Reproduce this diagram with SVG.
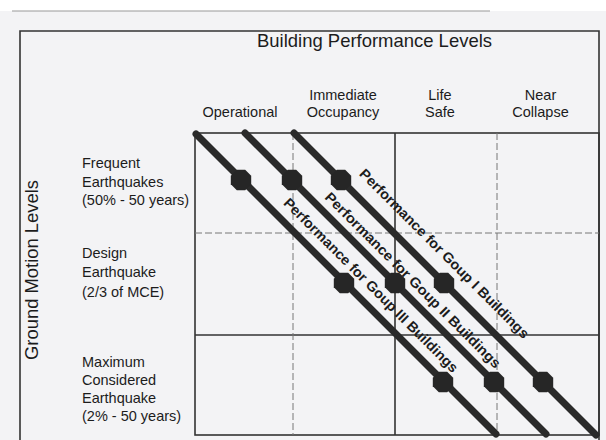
<svg xmlns="http://www.w3.org/2000/svg" width="606" height="440" viewBox="0 0 606 440">
<style>
  .t{font-family:"Liberation Sans",Arial,sans-serif;fill:#1c1c1c;}
  .hdr{font-size:14.5px;text-anchor:middle;}
  .row{font-size:14.5px;}
  .solid{stroke:#333;stroke-width:1.6;fill:none;}
  .dash{stroke:#777;stroke-width:1;stroke-dasharray:7 3;fill:none;}
  .perf{stroke:#2a2a2a;stroke-width:7;stroke-linecap:round;fill:none;}
  .dot{fill:#262626;}
  .lbl{font-size:14px;font-weight:bold;text-anchor:middle;}
</style>
<defs>
  <polygon id="oct" class="dot" points="10.2,4.2 4.2,10.2 -4.2,10.2 -10.2,4.2 -10.2,-4.2 -4.2,-10.2 4.2,-10.2 10.2,-4.2"/>
</defs>
<rect x="0" y="0" width="606" height="440" fill="#f3f3f5"/>
<rect x="0" y="0" width="606" height="11" fill="#ffffff"/>
<line x1="12" y1="11" x2="490" y2="11" stroke="#999" stroke-width="1.2"/>

<g id="frame">
  <polyline class="solid" points="20,440 20,31 599,31 599,440" stroke-width="2"/>
</g>

<g id="title">
  <text class="t" x="374.5" y="47" font-size="18.5" text-anchor="middle" textLength="235" lengthAdjust="spacingAndGlyphs">Building Performance Levels</text>
  <text class="t" transform="translate(37.5,270) rotate(-90)" font-size="18.4" text-anchor="middle">Ground Motion Levels</text>
</g>

<g id="column-headers">
  <text class="t hdr" x="240" y="117">Operational</text>
  <text class="t hdr" x="343" y="100">Immediate</text>
  <text class="t hdr" x="343" y="117">Occupancy</text>
  <text class="t hdr" x="440" y="100">Life</text>
  <text class="t hdr" x="440" y="117">Safe</text>
  <text class="t hdr" x="540.5" y="100">Near</text>
  <text class="t hdr" x="540.5" y="117">Collapse</text>
</g>

<g id="row-headers">
  <text class="t row" x="82" y="168">Frequent</text>
  <text class="t row" x="82" y="186.5">Earthquakes</text>
  <text class="t row" x="82" y="205">(50% - 50 years)</text>
  <text class="t row" x="82" y="258">Design</text>
  <text class="t row" x="82" y="277">Earthquake</text>
  <text class="t row" x="82" y="296.5">(2/3 of MCE)</text>
  <text class="t row" x="82" y="367">Maximum</text>
  <text class="t row" x="82" y="385">Considered</text>
  <text class="t row" x="82" y="403">Earthquake</text>
  <text class="t row" x="82" y="421">(2% - 50 years)</text>
</g>

<g id="grid">
  <rect class="solid" x="195" y="133" width="404" height="302"/>
  <line class="solid" x1="395" y1="133" x2="395" y2="435"/>
  <line class="solid" x1="195" y1="335" x2="599" y2="335"/>
  <line class="dash" x1="293" y1="133" x2="293" y2="435"/>
  <line class="dash" x1="497" y1="133" x2="497" y2="435"/>
  <line class="dash" x1="195" y1="233" x2="599" y2="233" stroke="#444"/>
</g>

<g id="connectors">
  <g id="group-III">
    <line class="perf" x1="196" y1="134" x2="496" y2="434"/>
    <use href="#oct" x="241" y="180"/>
    <use href="#oct" x="344" y="283"/>
    <use href="#oct" x="443" y="382"/>
  </g>
  <g id="group-II">
    <line class="perf" x1="245" y1="133" x2="546" y2="434"/>
    <use href="#oct" x="292" y="180"/>
    <use href="#oct" x="395" y="283"/>
    <use href="#oct" x="494" y="382"/>
  </g>
  <g id="group-I">
    <line class="perf" x1="294" y1="133" x2="596" y2="435"/>
    <use href="#oct" x="341" y="180"/>
    <use href="#oct" x="444" y="283"/>
    <use href="#oct" x="543" y="382"/>
  </g>
</g>

<g id="labels">
  <text class="t lbl" transform="translate(441,257) rotate(45)" textLength="233" lengthAdjust="spacingAndGlyphs">Performance for Goup I Buildings</text>
  <text class="t lbl" transform="translate(409.5,283.5) rotate(45)" textLength="242" lengthAdjust="spacingAndGlyphs">Performance for Goup II Buildings</text>
  <text class="t lbl" transform="translate(367.5,288.5) rotate(45)" textLength="240" lengthAdjust="spacingAndGlyphs">Performance for Goup III Buildings</text>
</g>
</svg>
